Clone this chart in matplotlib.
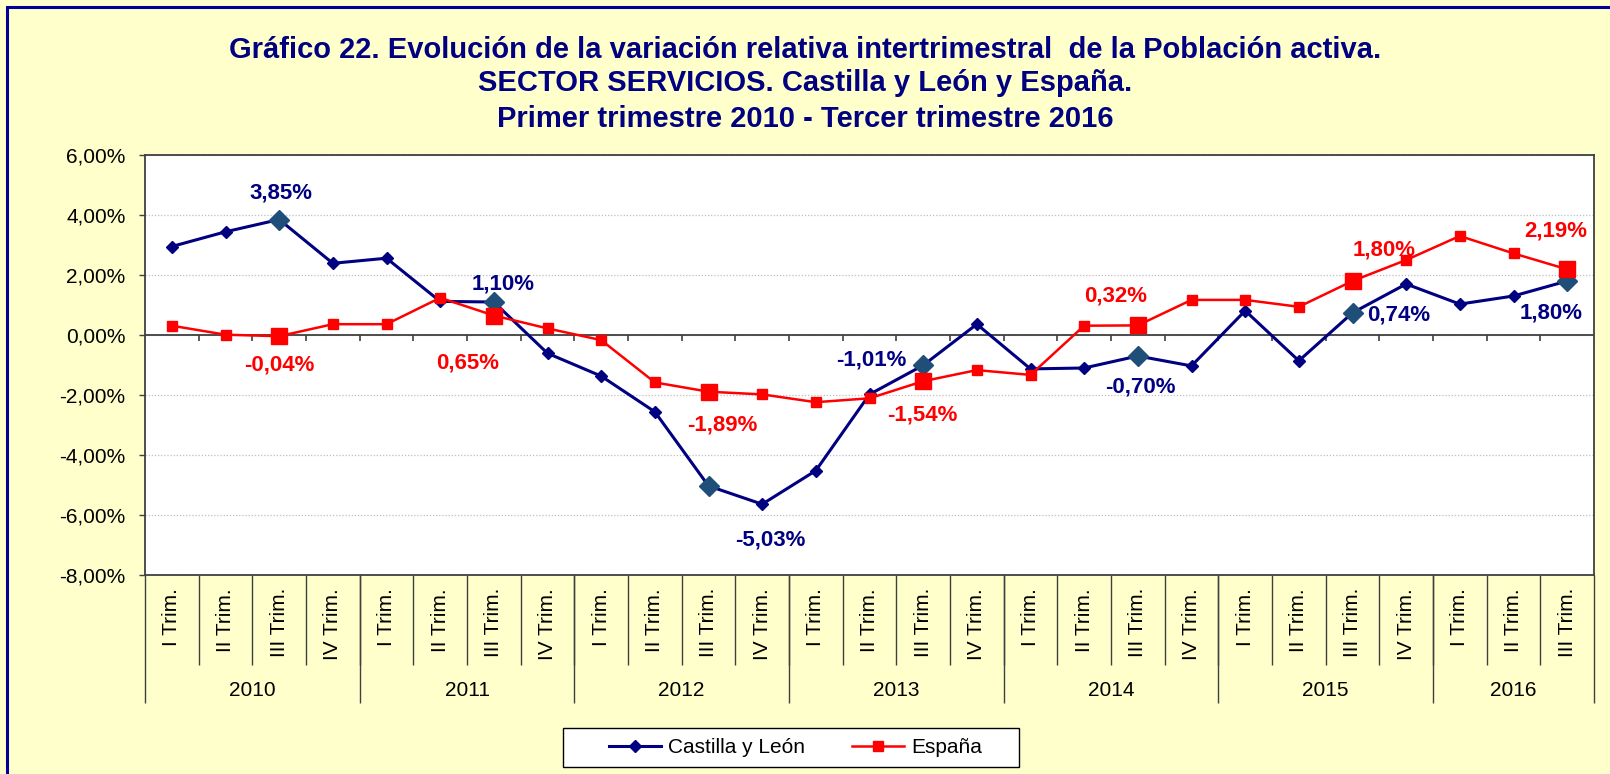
import numpy as np
import matplotlib
matplotlib.use('Agg')
import matplotlib.pyplot as plt
from matplotlib.patches import Rectangle
from matplotlib.ticker import FuncFormatter

plt.rcParams['font.family'] = ['Liberation Sans', 'DejaVu Sans']

# Data
years = ['2010', '2011', '2012', '2013', '2014', '2015', '2016']
quarters = ['I Trim.', 'II Trim.', 'III Trim.', 'IV Trim.']

cyl = [2.95, 3.44, 3.85, 2.39, 2.56, 1.12, 1.10, -0.61, -1.37, -2.56, -5.03, -5.64, -4.52, -1.98,
       -1.01, 0.36, -1.13, -1.10, -0.70, -1.03, 0.81, -0.86, 0.74, 1.70, 1.03, 1.30, 1.80]
esp = [0.31, 0.01, -0.04, 0.36, 0.36, 1.24, 0.65, 0.22, -0.17, -1.58, -1.89, -1.98, -2.24, -2.11,
       -1.54, -1.17, -1.33, 0.31, 0.32, 1.17, 1.17, 0.94, 1.80, 2.50, 3.30, 2.72, 2.19]

title_lines = ['Gráfico 22. Evolución de la variación relativa intertrimestral  de la Población activa.',
               'SECTOR SERVICIOS. Castilla y León y España.',
               'Primer trimestre 2010 - Tercer trimestre 2016']

# label offsets (pixels) for the highlighted III Trim. points
cyl_offsets = [(2, 26), (9, 18), (62, -54), (-52, 5), (3, -31), (46, -2), (-16, -32)]
esp_offsets = [(0, -29), (-26, -48), (14, -33), (-1, -34), (-22, 29), (32, 31), (-11, 38)]

n = len(cyl)
q_labels = [q for y in years for q in quarters][:n]
x = np.arange(n)
hl = np.array([i for i, q in enumerate(q_labels) if q == 'III Trim.'])
cyl_a = np.array(cyl)
esp_a = np.array(esp)

navy = '#000080'
red = '#FF0000'
hl_blue = '#1F4E79'
W, H = 1610, 774

fig = plt.figure(figsize=(16.1, 7.74), dpi=100, facecolor='#FFFFCC')
fig.add_artist(Rectangle((6.5 / W, -0.1), 1.2, 1.1 - 6.5 / H, transform=fig.transFigure,
                         fill=False, edgecolor='#000099', lw=2.2))
ax = fig.add_axes([145 / W, 1 - 575 / H, 1449 / W, 420 / H])
ax.set_facecolor('white')

l1, = ax.plot(x, cyl, color=navy, lw=2.2, marker='D', ms=6, zorder=3, label='Castilla y León')
ax.plot(hl, cyl_a[hl], ls='none', marker='D', ms=10, color=hl_blue, zorder=3.5)
l2, = ax.plot(x, esp, color=red, lw=1.8, marker='s', ms=7, zorder=4, label='España')
ax.plot(hl, esp_a[hl], ls='none', marker='s', ms=11, color=red, zorder=4.5)


def pct(v):
    return f'{v:.2f}'.replace('.', ',') + '%'


for k, i in enumerate(hl):
    ax.annotate(pct(cyl[i]), (i, cyl[i]), xytext=cyl_offsets[k], textcoords='offset pixels',
                ha='center', va='center', fontsize=16, fontweight='bold', color=navy, zorder=6)
    ax.annotate(pct(esp[i]), (i, esp[i]), xytext=esp_offsets[k], textcoords='offset pixels',
                ha='center', va='center', fontsize=16, fontweight='bold', color=red, zorder=6)

ax.set_xlim(-0.5, n - 0.5)
ax.set_ylim(-8, 6)
ax.set_yticks(np.arange(-8, 7, 2))
ax.yaxis.set_major_formatter(FuncFormatter(lambda v, p: pct(v)))
ax.tick_params(axis='y', direction='out', length=4, width=1, labelsize=15, pad=10, color='#404040')
ax.set_xticks([])
ax.yaxis.grid(True, color='#BFBFBF', ls=(0, (1, 1.5)), lw=0.9)
ax.set_axisbelow(True)
for s in ax.spines.values():
    s.set_color('#404040')
    s.set_linewidth(1.3)

# category axis at zero
ax.axhline(0, color='#404040', lw=1.3, zorder=2)
bounds = np.arange(0.5, n - 1, 1)
ax.vlines(bounds, -0.2, 0, color='#404040', lw=1.2, zorder=2)

# multi-level category labels
xt = ax.get_xaxis_transform()
for i in x:
    ax.text(i, -0.031, q_labels[i], transform=xt, rotation=90, ha='center', va='top', fontsize=15)
ax.vlines(bounds, -0.214, 0, transform=xt, color='#404040', lw=1, clip_on=False)
year_bounds = [b - 0.5 for b in range(0, n, 4)] + [n - 0.5]
ax.vlines(year_bounds, -0.305, 0, transform=xt, color='#404040', lw=1, clip_on=False)
for k, y in enumerate(years):
    idx = [i for i in range(k * 4, min(k * 4 + 4, n))]
    ax.text(np.mean(idx), -0.276, y, transform=xt, ha='center', va='center', fontsize=15)

for k, t in enumerate(title_lines):
    fig.text(0.5, 1 - [50, 83, 119][k] / H, t, ha='center', va='center', fontsize=21,
             fontweight='bold', color=navy)

# legend
fig.add_artist(Rectangle((563 / W, 1 - 767 / H), (1019 - 563) / W, 39 / H, transform=fig.transFigure,
                         facecolor='white', edgecolor='black', lw=1, zorder=5))
leg = fig.legend([l1, l2], ['Castilla y León', 'España'], loc='center left',
                 bbox_to_anchor=(609 / W, 1 - 747.5 / H), ncol=2, fontsize=15, frameon=False,
                 handlelength=2.5, handletextpad=0.35, columnspacing=2.25, borderpad=0,
                 borderaxespad=0, numpoints=1)
leg.set_zorder(6)

fig.savefig('out.png', dpi=100, facecolor=fig.get_facecolor())
